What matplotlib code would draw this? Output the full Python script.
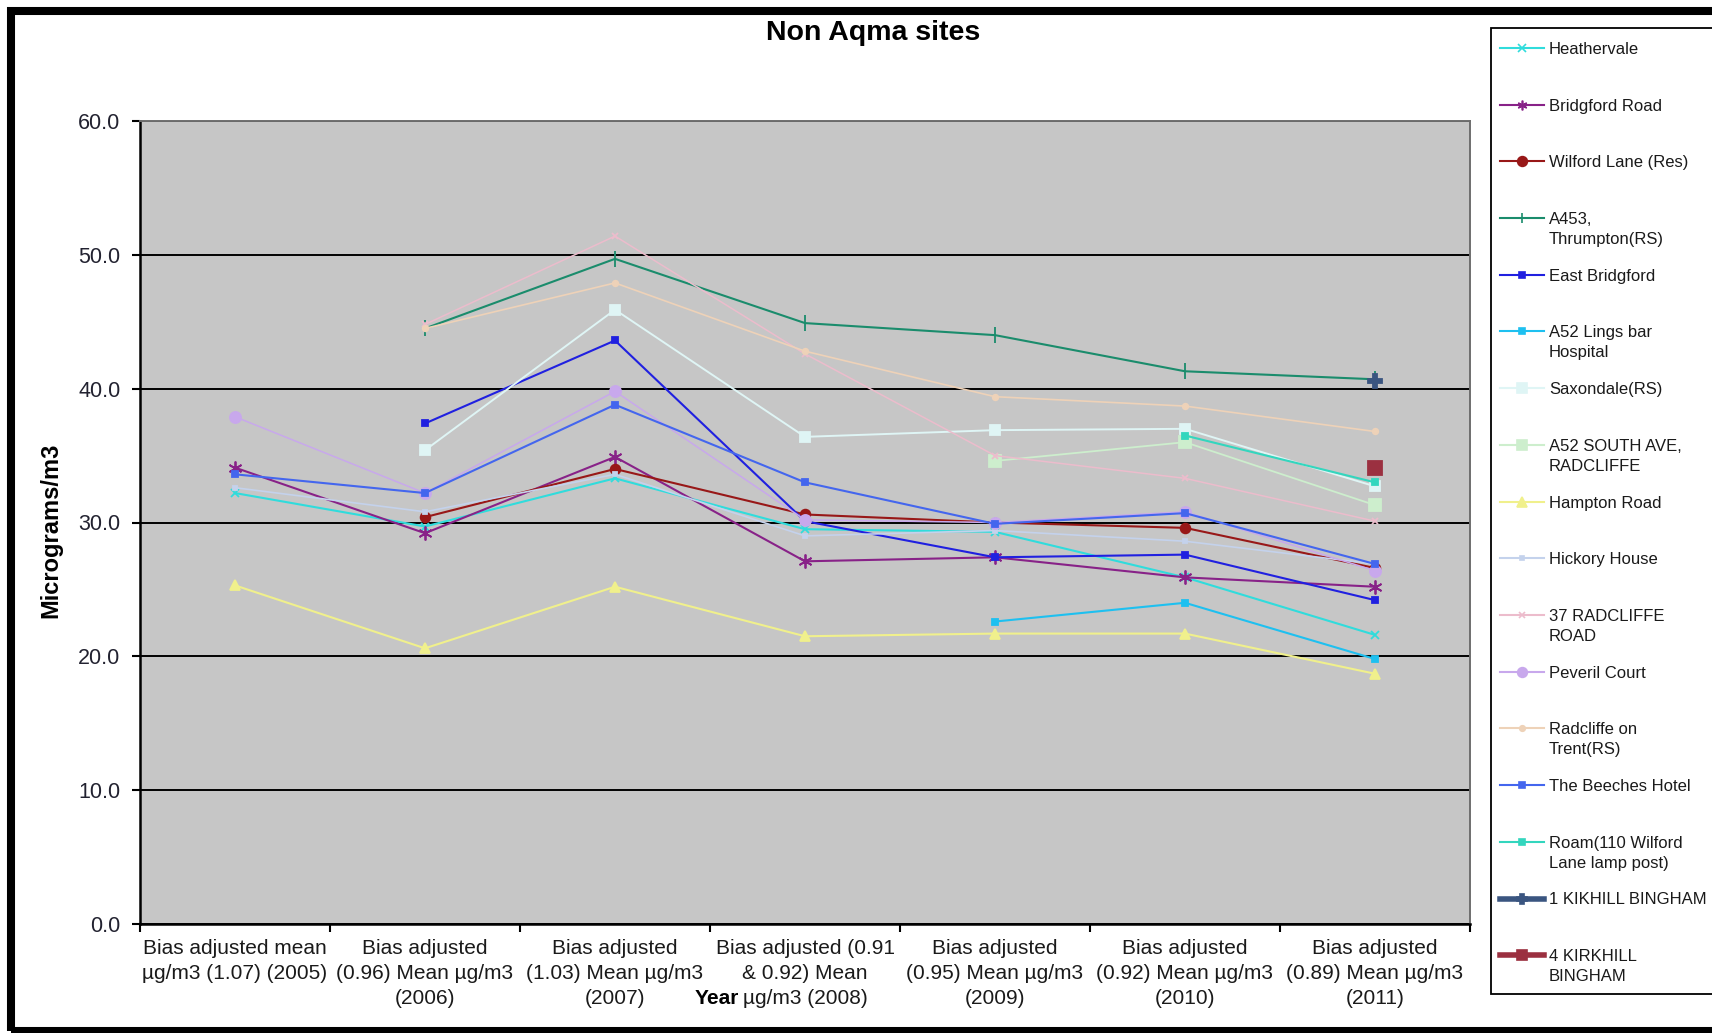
import numpy as np
import matplotlib
matplotlib.use("Agg")
import matplotlib.pyplot as plt
from matplotlib.lines import Line2D
from matplotlib.patches import Rectangle

plt.rcParams['font.family'] = ['Liberation Sans', 'DejaVu Sans']

nan = np.nan

# x categories (one per year)
categories = [
    "Bias adjusted mean\nµg/m3 (1.07) (2005)",
    "Bias adjusted\n(0.96) Mean µg/m3\n(2006)",
    "Bias adjusted\n(1.03) Mean µg/m3\n(2007)",
    "Bias adjusted (0.91\n& 0.92) Mean\nµg/m3 (2008)",
    "Bias adjusted\n(0.95) Mean µg/m3\n(2009)",
    "Bias adjusted\n(0.92) Mean µg/m3\n(2010)",
    "Bias adjusted\n(0.89) Mean µg/m3\n(2011)",
]

# NO2 bias-adjusted annual means per site
heathervale        = [32.2, 29.7, 33.3, 29.5, 29.3, 25.9, 21.6]
bridgford_road     = [34.1, 29.2, 34.9, 27.1, 27.4, 25.9, 25.2]
wilford_lane       = [nan, 30.4, 34.0, 30.6, 30.0, 29.6, 26.6]
a453_thrumpton     = [nan, 44.5, 49.7, 44.9, 44.0, 41.3, 40.7]
east_bridgford     = [nan, 37.4, 43.6, 30.1, 27.4, 27.6, 24.2]
a52_lings_bar      = [nan, nan, nan, nan, 22.6, 24.0, 19.8]
saxondale          = [nan, 35.4, 45.9, 36.4, 36.9, 37.0, 32.7]
a52_south_ave      = [nan, nan, nan, nan, 34.6, 36.0, 31.3]
hampton_road       = [25.3, 20.6, 25.2, 21.5, 21.7, 21.7, 18.7]
hickory_house      = [32.6, 30.8, 33.6, 29.0, 29.4, 28.6, 26.9]
radcliffe_road_37  = [nan, 44.8, 51.4, 42.6, 35.0, 33.3, 30.1]
peveril_court      = [37.9, 32.2, 39.8, 30.2, 30.0, 30.8, 26.4]
radcliffe_on_trent = [nan, 44.5, 47.9, 42.8, 39.4, 38.7, 36.8]
beeches_hotel      = [33.6, 32.2, 38.8, 33.0, 29.9, 30.7, 26.9]
roam_wilford       = [nan, nan, nan, nan, nan, 36.5, 33.0]
kikhill_1          = [nan, nan, nan, nan, nan, nan, 40.6]
kirkhill_4         = [nan, nan, nan, nan, nan, nan, 34.1]

site_names = [
    "Heathervale", "Bridgford Road", "Wilford Lane (Res)", "A453,\nThrumpton(RS)",
    "East Bridgford", "A52 Lings bar\nHospital", "Saxondale(RS)",
    "A52 SOUTH AVE,\nRADCLIFFE", "Hampton Road", "Hickory House",
    "37 RADCLIFFE\nROAD", "Peveril Court", "Radcliffe on\nTrent(RS)",
    "The Beeches Hotel", "Roam(110 Wilford\nLane lamp post)",
    "1 KIKHILL BINGHAM", "4 KIRKHILL\nBINGHAM",
]
site_values = [
    heathervale, bridgford_road, wilford_lane, a453_thrumpton, east_bridgford,
    a52_lings_bar, saxondale, a52_south_ave, hampton_road, hickory_house,
    radcliffe_road_37, peveril_court, radcliffe_on_trent, beeches_hotel,
    roam_wilford, kikhill_1, kirkhill_4,
]

# (colour, marker, markersize, plot line width, legend line width)
styles = [
    ("#30dcdc", "x", 6, 1.5, 1.5),
    ("#882288", (6, 2, 0), 10, 1.5, 1.5),
    ("#981818", "o", 7, 1.5, 1.5),
    ("#1a8c6c", "|", 11, 1.5, 1.5),
    ("#2020e0", "s", 4, 1.5, 1.5),
    ("#1ec0f0", "s", 4, 1.5, 1.5),
    ("#dff5f5", "s", 7, 1.4, 1.5),
    ("#cdeecd", "s", 8, 1.3, 1.5),
    ("#f0f08c", "^", 7, 1.5, 1.5),
    ("#c4d2ec", "s", 3, 1.2, 1.5),
    ("#ecbccc", "x", 5, 1.1, 1.5),
    ("#c8a8ec", "o", 8, 1.1, 1.5),
    ("#eed2b8", "o", 4, 1.2, 1.5),
    ("#4466ee", "s", 4, 1.5, 1.5),
    ("#33d6be", "s", 4, 1.5, 1.5),
    ("#3a5580", "P", 10, 1.5, 4.0),
    ("#9b3040", "s", 10, 1.5, 4.0),
]

W, H = 1712, 1033
fig = plt.figure(figsize=(W / 100, H / 100), dpi=100)
fig.patch.set_facecolor("white")

def fx(px):
    return px / W

def fy(py):
    return 1 - py / H

ax = fig.add_axes([fx(140), fy(924), fx(1470 - 140), (924 - 121) / H])
ax.set_facecolor("#c6c6c6")

x = np.arange(len(categories))
for name, vals, (col, mk, ms, lw, _) in zip(site_names, site_values, styles):
    ax.plot(x, vals, color=col, lw=lw, marker=mk, markersize=ms,
            markeredgecolor=col, markerfacecolor=col, markeredgewidth=1.3,
            label=name.replace("\n", " "), zorder=3)

ax.set_xlim(-0.5, len(categories) - 0.5)
ax.set_ylim(0, 60)
ax.set_yticks(np.arange(0, 61, 10))
ax.set_yticklabels([f"{v:.1f}" for v in np.arange(0, 61, 10)])
ax.set_xticks(x)
ax.set_xticklabels(categories, fontsize=15, color="#1a1a1a", linespacing=1.38)
ax.set_xticks(np.arange(-0.5, len(categories), 1), minor=True)
ax.tick_params(axis="x", which="major", length=0, pad=11)
ax.tick_params(axis="x", which="minor", length=6, width=1.5, color="black")
ax.tick_params(axis="y", length=6, width=1.5, color="black", pad=8,
               labelsize=15.5, labelcolor="#222230")

ax.yaxis.grid(True, color="black", lw=1.4)
ax.set_axisbelow(True)
for side in ("left", "bottom"):
    ax.spines[side].set_color("black")
    ax.spines[side].set_linewidth(1.8)
for side in ("top", "right"):
    ax.spines[side].set_color("#6e6e6e")
    ax.spines[side].set_linewidth(1.4)

fig.text(fx(873), fy(33), "Non Aqma sites", ha="center", va="center",
         fontsize=20.5, fontweight="bold")
fig.text(fx(51), fy(530), "Micrograms/m3", rotation=90, ha="center",
         va="center", fontsize=17, fontweight="bold")
fig.text(fx(695), fy(998), "Year", ha="left", va="center",
         fontsize=15, fontweight="bold")

# legend box, drawn by hand so the handle sits on the first text line
fig.add_artist(Rectangle((fx(1491), fy(994)), fx(400), (994 - 28) / H,
                         transform=fig.transFigure, facecolor="white",
                         edgecolor="black", lw=1.3, zorder=1))
leg_font = 12
for i, (name, (col, mk, ms, _, leg_lw)) in enumerate(zip(site_names, styles)):
    yy = 48 + i * 56.7
    fig.add_artist(Line2D([fx(1500), fx(1544)], [fy(yy), fy(yy)],
                          transform=fig.transFigure, color=col, lw=leg_lw, zorder=2))
    fig.add_artist(Line2D([fx(1522)], [fy(yy)], transform=fig.transFigure,
                          color=col, marker=mk, markersize=min(ms, 7),
                          markeredgewidth=1.2, markerfacecolor=col,
                          linestyle="none", zorder=2))
    for k, line in enumerate(name.split("\n")):
        fig.text(fx(1549), fy(yy + 6 + k * 19.7), line, ha="left", va="baseline",
                 fontsize=leg_font, color="#1a1a1a", zorder=3)

# thick outer frame
fig.add_artist(Rectangle((fx(11), fy(1031)), fx(1900), (1031 - 11) / H,
                         transform=fig.transFigure, facecolor="none",
                         edgecolor="black", lw=5.8, zorder=5))

fig.savefig("out.png", dpi=100)
